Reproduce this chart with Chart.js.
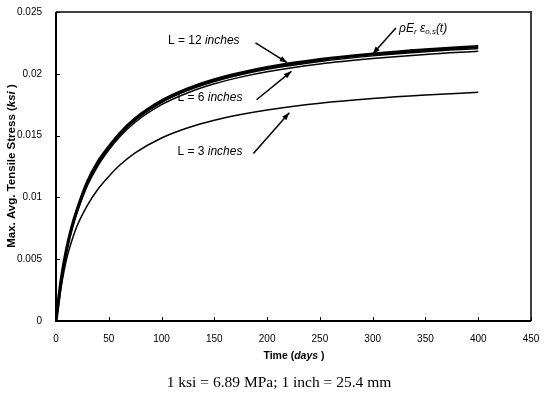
<!DOCTYPE html>
<html>
<head>
<meta charset="utf-8">
<script src="https://cdn.jsdelivr.net/npm/chart.js@4/dist/chart.umd.min.js"></script>
<style>
  html, body { margin: 0; padding: 0; background: #fff; }
  #wrap { width: 545px; height: 393px; }
</style>
</head>
<body>
<div id="wrap"><canvas id="myChart" width="545" height="393"></canvas></div>
<script>
// time in days and stresses in ksi
const days  = [0, 2, 5, 10, 15, 20, 30, 40, 50, 60, 75, 100, 125, 150, 175, 200, 250, 300, 350, 400];
const rhoEe = [0, 0.0014, 0.0034, 0.0058, 0.0076, 0.0090, 0.0113, 0.0129, 0.01408, 0.01513, 0.01636, 0.0178, 0.01879, 0.01952, 0.02007, 0.02051, 0.02115, 0.0216, 0.02194, 0.0222];
const L12   = [0, 0.0014, 0.0034, 0.0058, 0.0075, 0.0089, 0.0112, 0.0128, 0.01398, 0.01502, 0.01625, 0.01768, 0.01866, 0.01938, 0.01993, 0.02037, 0.021, 0.02145, 0.02179, 0.02204];
const L6    = [0, 0.0013, 0.0033, 0.0057, 0.0074, 0.0088, 0.0110, 0.0126, 0.01384, 0.01487, 0.01608, 0.0175, 0.01847, 0.01919, 0.01973, 0.02016, 0.02079, 0.02123, 0.02157, 0.02182];
const L3    = [0, 0.0011, 0.0028, 0.0050, 0.0065, 0.0077, 0.0094, 0.0107, 0.0117, 0.01258, 0.0136, 0.01481, 0.01564, 0.01625, 0.01671, 0.01708, 0.01762, 0.018, 0.01828, 0.0185];

const xTicks = [0, 50, 100, 150, 200, 250, 300, 350, 400, 450];
const yTicks = [0, 0.005, 0.01, 0.015, 0.02, 0.025];

// labels + arrows, in data units (days, ksi)
const notes = [
  { text: [["L = 12 ", ""], ["inches", "italic"]], at: [106, 0.02266], from: [189, 0.0225], to: [219, 0.0209] },
  { text: [["L = 6 ", ""], ["inches", "italic"]],  at: [115, 0.01806], from: [190, 0.0179], to: [223, 0.0202] },
  { text: [["L = 3 ", ""], ["inches", "italic"]],  at: [115, 0.01371], from: [187, 0.01355], to: [221, 0.01685] }
];

function pts(ys) {
  return days.map(function(d, i) { return { x: d, y: ys[i] }; });
}

// draw a run of text pieces with their own font
function rich(ctx, parts, x, y) {
  for (var p of parts) {
    ctx.font = p.font;
    ctx.fillText(p.t, x, y + (p.dy || 0));
    x += ctx.measureText(p.t).width;
  }
  return x;
}
function richWidth(ctx, parts) {
  var w = 0;
  for (var p of parts) { ctx.font = p.font; w += ctx.measureText(p.t).width; }
  return w;
}

function arrow(ctx, x1, y1, x2, y2) {
  ctx.beginPath();
  ctx.moveTo(x1, y1);
  ctx.lineTo(x2, y2);
  ctx.lineWidth = 1.5;
  ctx.stroke();
  var a = Math.atan2(y2 - y1, x2 - x1);
  ctx.beginPath();
  ctx.moveTo(x2, y2);
  ctx.lineTo(x2 - 8 * Math.cos(a - 0.35), y2 - 8 * Math.sin(a - 0.35));
  ctx.lineTo(x2 - 8 * Math.cos(a + 0.35), y2 - 8 * Math.sin(a + 0.35));
  ctx.closePath();
  ctx.fill();
}

const decor = {
  id: 'decor',
  afterDraw: function(chart) {
    var ctx = chart.ctx, a = chart.chartArea;
    var xs = chart.scales.x, ys = chart.scales.y;
    ctx.save();
    ctx.fillStyle = '#000';
    ctx.strokeStyle = '#000';

    // frame: dark grey top/right, black left/bottom
    ctx.lineWidth = 2;
    ctx.strokeStyle = '#404040';
    ctx.beginPath();
    ctx.moveTo(a.left, a.top); ctx.lineTo(a.right, a.top); ctx.lineTo(a.right, a.bottom);
    ctx.stroke();
    ctx.strokeStyle = '#000';
    ctx.beginPath();
    ctx.moveTo(a.left, a.top); ctx.lineTo(a.left, a.bottom); ctx.lineTo(a.right, a.bottom);
    ctx.stroke();

    // inward ticks
    ctx.lineWidth = 1;
    ctx.beginPath();
    for (var t of xTicks) {
      var px = Math.round(xs.getPixelForValue(t)) + 0.5;
      ctx.moveTo(px, a.bottom); ctx.lineTo(px, a.bottom - 4);
    }
    for (var v of yTicks) {
      var py = Math.round(ys.getPixelForValue(v)) + 0.5;
      ctx.moveTo(a.left, py); ctx.lineTo(a.left + 4, py);
    }
    ctx.stroke();

    // axis titles
    ctx.textBaseline = 'middle';
    var b = 'bold 10.5px "Liberation Sans", Arial, sans-serif';
    var bi = 'italic bold 10.5px "Liberation Sans", Arial, sans-serif';
    var xt = [{ t: 'Time (', font: b }, { t: 'days', font: bi }, { t: ' )', font: b }];
    rich(ctx, xt, 294 - richWidth(ctx, xt) / 2, 356);

    var b2 = 'bold 11.5px "Liberation Sans", Arial, sans-serif';
    var bi2 = 'italic bold 11.5px "Liberation Sans", Arial, sans-serif';
    var yt = [{ t: 'Max. Avg. Tensile Stress (', font: b2 }, { t: 'ksi', font: bi2 }, { t: ' )', font: b2 }];
    ctx.save();
    ctx.translate(12, 166);
    ctx.rotate(-Math.PI / 2);
    rich(ctx, yt, -richWidth(ctx, yt) / 2, 0);
    ctx.restore();

    // annotations
    var f = '12px "Liberation Sans", Arial, sans-serif';
    var fi = 'italic 12px "Liberation Sans", Arial, sans-serif';
    for (var n of notes) {
      var parts = n.text.map(function(s) { return { t: s[0], font: s[1] ? fi : f }; });
      rich(ctx, parts, xs.getPixelForValue(n.at[0]), ys.getPixelForValue(n.at[1]));
      arrow(ctx, xs.getPixelForValue(n.from[0]), ys.getPixelForValue(n.from[1]),
                 xs.getPixelForValue(n.to[0]), ys.getPixelForValue(n.to[1]));
    }
    var sub = 'italic 8px "Liberation Sans", Arial, sans-serif';
    rich(ctx, [
      { t: '\u03C1E', font: fi }, { t: 'r', font: sub, dy: 3 },
      { t: ' \u03B5', font: fi }, { t: 'o,s', font: sub, dy: 3 },
      { t: '(t)', font: fi }
    ], xs.getPixelForValue(325), ys.getPixelForValue(0.02363));
    arrow(ctx, xs.getPixelForValue(322), ys.getPixelForValue(0.02371),
               xs.getPixelForValue(300), ys.getPixelForValue(0.02161));

    // unit note
    ctx.font = '15.5px "Liberation Serif", "Times New Roman", serif';
    ctx.textAlign = 'center';
    ctx.fillText('1 ksi = 6.89 MPa; 1 inch = 25.4 mm', 279, 383);
    ctx.restore();
  }
};

var ctx = document.getElementById("myChart").getContext("2d");
var LineGraph = new Chart(ctx, {
  type: 'line',
  data: {
    datasets: [
      { label: 'rhoE', data: pts(rhoEe), borderColor: '#000', borderWidth: 3.2 },
      { label: 'L = 12 inches', data: pts(L12), borderColor: '#000', borderWidth: 1.5 },
      { label: 'L = 6 inches', data: pts(L6), borderColor: '#000', borderWidth: 1.5 },
      { label: 'L = 3 inches', data: pts(L3), borderColor: '#000', borderWidth: 1.5 }
    ]
  },
  options: {
    responsive: false,
    animation: false,
    layout: { padding: { left: 0, top: 11, right: 14, bottom: 0 } },
    elements: { point: { radius: 0 }, line: { cubicInterpolationMode: 'monotone', fill: false } },
    plugins: { legend: { display: false }, tooltip: { enabled: false } },
    scales: {
      x: {
        type: 'linear', min: 0, max: 450,
        afterBuildTicks: function(s) { s.ticks = xTicks.map(function(v) { return { value: v }; }); },
        afterFit: function(s) { s.height = 72; },
        grid: { display: false },
        border: { display: false },
        ticks: { color: '#000', padding: 4, maxRotation: 0, font: { family: '"Liberation Sans", Arial', size: 10 } }
      },
      y: {
        min: 0, max: 0.025,
        afterBuildTicks: function(s) { s.ticks = yTicks.map(function(v) { return { value: v }; }); },
        afterFit: function(s) { s.width = 56; },
        grid: { display: false },
        border: { display: false },
        ticks: {
          color: '#000', padding: 6, font: { family: '"Liberation Sans", Arial', size: 10 },
          callback: function(v) { return String(+v.toFixed(3)); }
        }
      }
    }
  },
  plugins: [decor]
});
</script>
</body>
</html>
